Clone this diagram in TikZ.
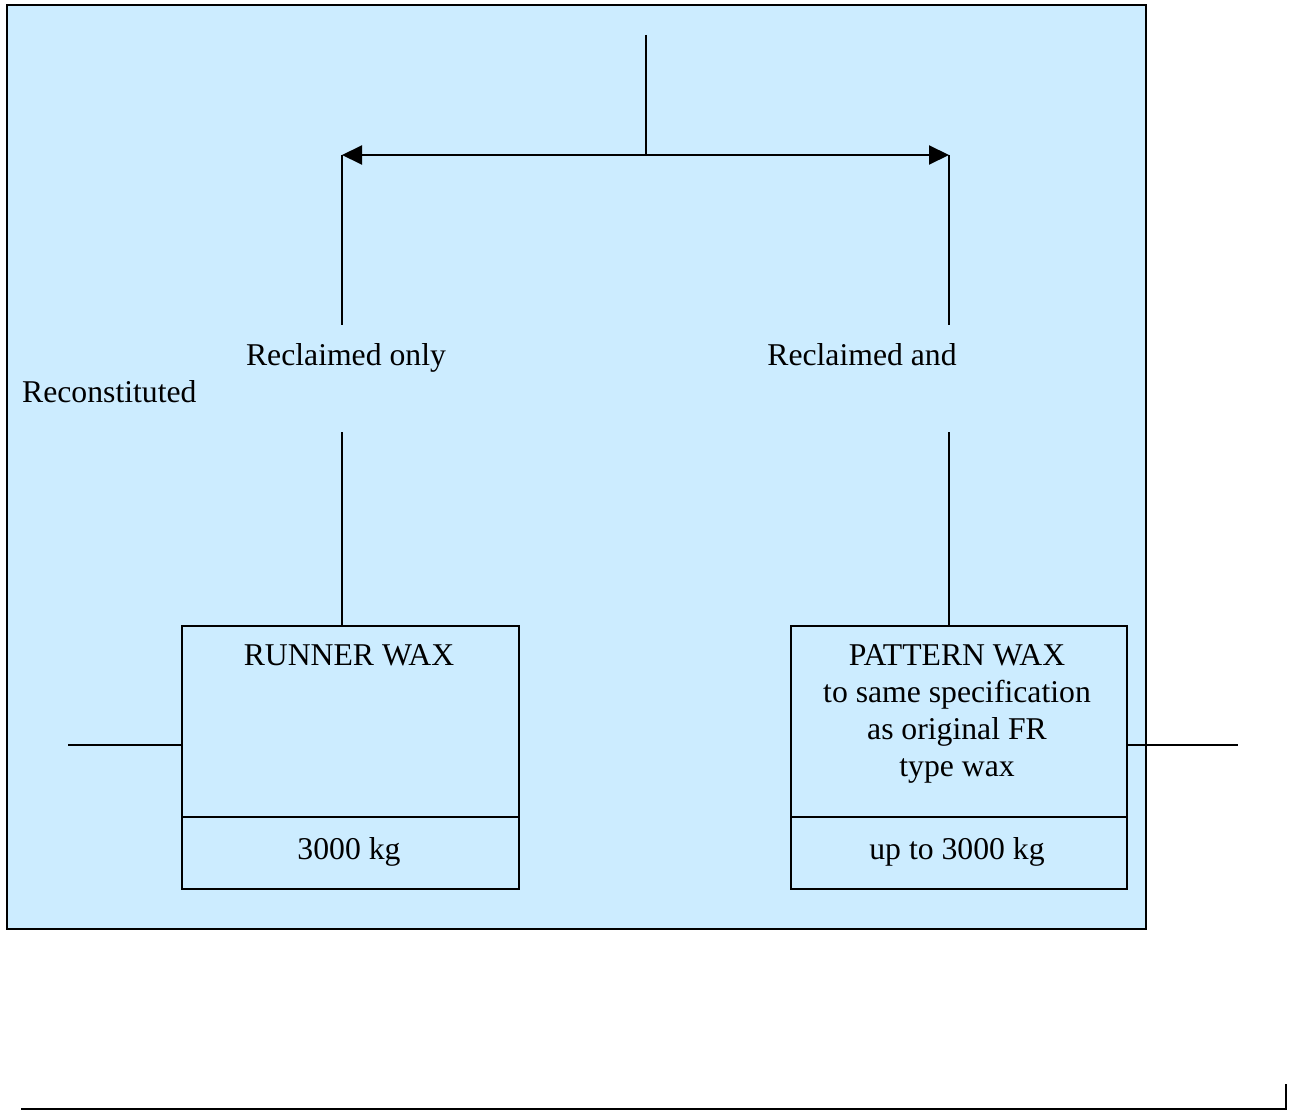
\documentclass[tikz,border=0pt]{standalone}
\usepackage{fontspec}
\setmainfont{Liberation Serif}
\usetikzlibrary{arrows.meta}
\definecolor{bgblue}{RGB}{204,236,255}
\begin{document}
\begin{tikzpicture}[x=1pt,y=-1pt,
  line/.style={line width=2pt, draw=black},
  box/.style={draw=black, line width=2pt, rectangle, inner sep=0pt, anchor=north west},
  lbl/.style={font=\fontsize{31.7}{37}\selectfont, inner sep=0pt, anchor=base, align=center},
  tip/.style={-{Triangle[length=20pt,width=19pt]}}]
\useasboundingbox (0,0) rectangle (1298,1110);
% background panel
\node[draw=black, line width=2.4pt, fill=bgblue, rectangle, inner sep=0pt, anchor=north west,
      minimum width=1139pt, minimum height=924pt] (panel) at (6,4) {};
% boxes
\node[box, minimum width=337pt, minimum height=191pt] (runner) at (181,625) {};
\node[box, minimum width=337pt, minimum height=72pt] (runnerkg) at (181,816) {};
\node[box, minimum width=336pt, minimum height=191pt] (pattern) at (790,625) {};
\node[box, minimum width=336pt, minimum height=72pt] (patternkg) at (790,816) {};
% texts
\node[lbl] (t1) at (346,365) {Reclaimed only};
\node[lbl] (t2) at (862,365) {Reclaimed and};
\node[lbl, anchor=base west] (t3) at (22,402) {Reconstituted};
\node[lbl] (t4) at (349,665) {RUNNER WAX};
\node[lbl, anchor=north] (t5) at (957,644) {PATTERN WAX\\to same specification\\as original FR\\type wax};
\node[lbl] (t6) at (349,859) {3000 kg};
\node[lbl] (t7) at (957,859) {up to 3000 kg};
% coordinates
\coordinate (top) at (646,35);
\coordinate (mid) at (646,155);
\coordinate (lc) at (342,155);
\coordinate (rc) at (949,155);
\coordinate (le) at (342,325);
\coordinate (re) at (949,325);
\coordinate (lb) at (342,432);
\coordinate (rb) at (949,432);
\coordinate (lstub) at (68,745);
\coordinate (rstub) at (1238,745);
\coordinate (b1) at (21,1109);
\coordinate (b2) at (1286,1109);
\coordinate (b3) at (1286,1084);
% connectors
\draw[line] (top) -- (mid);
\draw[line, tip] (mid) -- (lc);
\draw[line, tip] (mid) -- (rc);
\draw[line] (lc) -- (le);
\draw[line] (rc) -- (re);
\draw[line] (lb) -- (lb |- runner.north);
\draw[line] (rb) -- (rb |- pattern.north);
\draw[line] (lstub) -- (lstub -| runner.west);
\draw[line] (pattern.east |- rstub) -- (rstub);
\draw[line] (b1) -- (b2) -- (b3);
\end{tikzpicture}
\end{document}
